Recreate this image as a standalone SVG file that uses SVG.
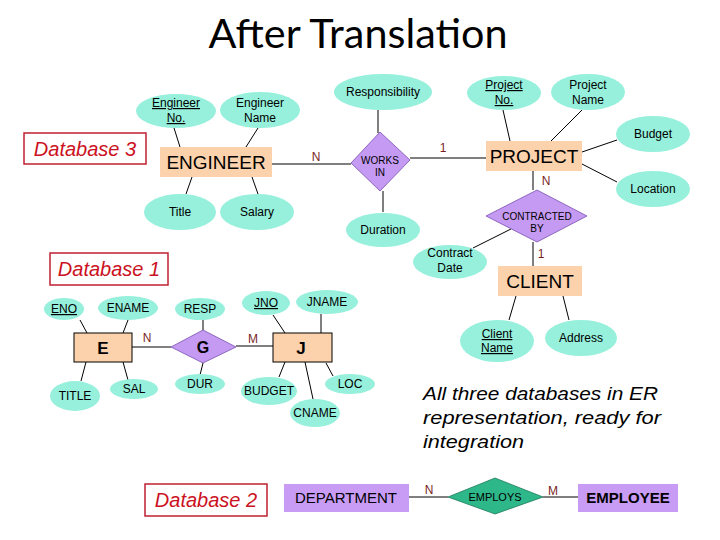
<svg xmlns="http://www.w3.org/2000/svg" width="720" height="540" viewBox="0 0 720 540">
<style>
text{font-family:"Liberation Sans",Arial,sans-serif;fill:#000}
.att{fill:#96F0DC}
.ent{fill:#FCD2AC}
.rel{fill:#C59AF2;stroke:#7a4fb0;stroke-width:0.8}
.at{font-size:12px;text-anchor:middle}
.big{font-size:19px;text-anchor:middle}
.card{font-size:12px;fill:#7a1f1f;text-anchor:middle}
.db{fill:#fff;stroke:#c02030;stroke-width:1.5}
.dbt{font-size:20px;font-style:italic;fill:#cc1122;text-anchor:middle}
.ln{stroke:#000;stroke-width:1;fill:none}
.u{text-decoration:underline}
</style>
<rect width="720" height="540" fill="#fff"/>
<text x="358" y="48" font-size="40" text-anchor="middle" textLength="299" lengthAdjust="spacingAndGlyphs" style="font-family:Lato,'Liberation Sans',sans-serif">After Translation</text>

<g id="connectors">
<line class="ln" x1="174" y1="128" x2="180" y2="147" stroke-width="2.5"/>
<line class="ln" x1="258" y1="128" x2="246" y2="147"/>
<line class="ln" x1="192" y1="177" x2="186" y2="194"/>
<line class="ln" x1="252" y1="177" x2="258" y2="194"/>
<line class="ln" x1="272" y1="164" x2="351" y2="164"/>
<line class="ln" x1="378" y1="110" x2="378" y2="133"/>
<line class="ln" x1="383" y1="191" x2="383" y2="212"/>
<line class="ln" x1="410" y1="158" x2="486" y2="158"/>
<line class="ln" x1="503" y1="110" x2="510" y2="141"/>
<line class="ln" x1="582" y1="110" x2="551" y2="141"/>
<line class="ln" x1="617" y1="140" x2="582" y2="152"/>
<line class="ln" x1="617" y1="182" x2="582" y2="164"/>
<line class="ln" x1="533" y1="171" x2="533" y2="190"/>
<line class="ln" x1="533" y1="242" x2="533" y2="266"/>
<line class="ln" x1="511" y1="229" x2="473" y2="248"/>
<line class="ln" x1="516" y1="296" x2="509" y2="320"/>
<line class="ln" x1="563" y1="296" x2="569" y2="320"/>
<line class="ln" x1="80" y1="320" x2="87" y2="333"/>
<line class="ln" x1="128" y1="320" x2="123" y2="333"/>
<line class="ln" x1="86" y1="362" x2="81" y2="381"/>
<line class="ln" x1="123" y1="362" x2="128" y2="380"/>
<line class="ln" x1="132" y1="347" x2="171" y2="347"/>
<line class="ln" x1="203" y1="318" x2="203" y2="330"/>
<line class="ln" x1="203" y1="363" x2="200" y2="375"/>
<line class="ln" x1="236" y1="346" x2="273" y2="346"/>
<line class="ln" x1="273" y1="315" x2="285" y2="333"/>
<line class="ln" x1="321" y1="314" x2="321" y2="333"/>
<line class="ln" x1="285" y1="362" x2="279" y2="377"/>
<line class="ln" x1="305" y1="362" x2="313" y2="399"/>
<line class="ln" x1="326" y1="363" x2="333" y2="376"/>
<line class="ln" x1="409" y1="497" x2="448" y2="497" stroke-width="3"/>
<line class="ln" x1="543" y1="497" x2="578" y2="497" stroke-width="3"/>
<text class="card" x="316" y="161">N</text>
<text class="card" x="443" y="152">1</text>
<text class="card" x="546" y="185">N</text>
<text class="card" x="541" y="258">1</text>
<text class="card" x="147" y="342">N</text>
<text class="card" x="253" y="343">M</text>
<text class="card" x="429" y="494">N</text>
<text class="card" x="553" y="495">M</text>
</g>

<g id="db3"><rect class="db" x="24" y="133" width="122" height="31"/><text class="dbt" x="85" y="156">Database 3</text></g>
<g id="db1"><rect class="db" x="50" y="253" width="118" height="32"/><text class="dbt" x="109" y="276">Database 1</text></g>
<g id="db2"><rect class="db" x="145" y="484" width="122" height="32"/><text class="dbt" x="206" y="507">Database 2</text></g>

<g id="engineer-no"><ellipse class="att" cx="176" cy="111" rx="40" ry="17"/><text class="at u" x="176" y="107">Engineer</text><text class="at u" x="176" y="122">No.</text></g>
<g id="engineer-name"><ellipse class="att" cx="260" cy="110" rx="40" ry="18"/><text class="at" x="260" y="107">Engineer</text><text class="at" x="260" y="122">Name</text></g>
<g id="engineer"><rect class="ent" x="160" y="147" width="112" height="30"/><text class="big" x="216" y="169">ENGINEER</text></g>
<g id="title"><ellipse class="att" cx="180" cy="212" rx="36" ry="18"/><text class="at" x="180" y="216">Title</text></g>
<g id="salary"><ellipse class="att" cx="257" cy="212" rx="37" ry="18"/><text class="at" x="257" y="216">Salary</text></g>
<g id="responsibility"><ellipse class="att" cx="383" cy="92" rx="49" ry="18"/><text class="at" x="383" y="96">Responsibility</text></g>
<g id="works-in"><polygon class="rel" points="380,132 410,160 380,191 351,163"/><text x="380" y="164" font-size="10" text-anchor="middle">WORKS</text><text x="380" y="176" font-size="10" text-anchor="middle">IN</text></g>
<g id="duration"><ellipse class="att" cx="383" cy="230" rx="37" ry="17"/><text class="at" x="383" y="234">Duration</text></g>
<g id="project-no"><ellipse class="att" cx="504" cy="93" rx="37" ry="17"/><text class="at u" x="504" y="89">Project</text><text class="at u" x="504" y="104">No.</text></g>
<g id="project-name"><ellipse class="att" cx="588" cy="92" rx="37" ry="18"/><text class="at" x="588" y="89">Project</text><text class="at" x="588" y="104">Name</text></g>
<g id="budget"><ellipse class="att" cx="653" cy="134" rx="37" ry="18"/><text class="at" x="653" y="138">Budget</text></g>
<g id="location"><ellipse class="att" cx="653" cy="189" rx="37" ry="18"/><text class="at" x="653" y="193">Location</text></g>
<g id="project"><rect class="ent" x="486" y="141" width="96" height="30"/><text class="big" x="534" y="163">PROJECT</text></g>
<g id="contracted-by"><polygon class="rel" points="537,190 587,216 537,242 486,216"/><text x="537" y="220" font-size="10" text-anchor="middle">CONTRACTED</text><text x="537" y="232" font-size="10" text-anchor="middle">BY</text></g>
<g id="contract-date"><ellipse class="att" cx="450" cy="262" rx="37" ry="17"/><text class="at" x="450" y="257">Contract</text><text class="at" x="450" y="272">Date</text></g>
<g id="client"><rect class="ent" x="498" y="266" width="84" height="30"/><text class="big" x="540" y="288">CLIENT</text></g>
<g id="client-name"><ellipse class="att" cx="497" cy="341" rx="37" ry="21"/><text class="at u" x="497" y="338">Client</text><text class="at u" x="497" y="352">Name</text></g>
<g id="address"><ellipse class="att" cx="581" cy="338" rx="36" ry="18"/><text class="at" x="581" y="342">Address</text></g>

<g id="eno"><ellipse class="att" cx="64" cy="309" rx="20" ry="11"/><text class="at u" x="64" y="313">ENO</text></g>
<g id="ename"><ellipse class="att" cx="128" cy="308" rx="30" ry="12"/><text class="at" x="128" y="312">ENAME</text></g>
<g id="e"><rect class="ent" x="74" y="333" width="58" height="29" stroke="#000" stroke-width="1"/><text x="103" y="354" font-size="17" font-weight="bold" text-anchor="middle">E</text></g>
<g id="title2"><ellipse class="att" cx="75" cy="396" rx="25" ry="15"/><text class="at" x="75" y="400">TITLE</text></g>
<g id="sal"><ellipse class="att" cx="134" cy="389" rx="24" ry="10"/><text class="at" x="134" y="393">SAL</text></g>
<g id="resp"><ellipse class="att" cx="200" cy="309" rx="25" ry="11"/><text class="at" x="200" y="313">RESP</text></g>
<g id="g"><polygon class="rel" points="203,330 236,347 203,363 171,347"/><text x="203" y="353" font-size="16" font-weight="bold" text-anchor="middle">G</text></g>
<g id="dur"><ellipse class="att" cx="200" cy="384" rx="25" ry="10"/><text class="at" x="200" y="388">DUR</text></g>
<g id="jno"><ellipse class="att" cx="266" cy="303" rx="24" ry="12"/><text class="at u" x="266" y="307">JNO</text></g>
<g id="jname"><ellipse class="att" cx="327" cy="302" rx="31" ry="12"/><text class="at" x="327" y="306">JNAME</text></g>
<g id="j"><rect class="ent" x="273" y="333" width="59" height="29" stroke="#000" stroke-width="1"/><text x="301" y="354" font-size="17" font-weight="bold" text-anchor="middle">J</text></g>
<g id="budget2"><ellipse class="att" cx="269" cy="391" rx="28" ry="14"/><text class="at" x="269" y="395">BUDGET</text></g>
<g id="cname"><ellipse class="att" cx="315" cy="413" rx="25" ry="14"/><text class="at" x="315" y="417">CNAME</text></g>
<g id="loc"><ellipse class="att" cx="350" cy="384" rx="25" ry="10"/><text class="at" x="350" y="388">LOC</text></g>

<g id="department"><rect x="284" y="484" width="125" height="28" fill="#C89CF5"/><text x="346" y="503" font-size="15" text-anchor="middle">DEPARTMENT</text></g>
<g id="employs"><polygon points="495,478 543,497 495,514 448,497" fill="#2EB88A" stroke="#1d7a5a" stroke-width="0.8"/><text x="495" y="501" font-size="11" text-anchor="middle" fill="#0d3d2d">EMPLOYS</text></g>
<g id="employee"><rect x="578" y="484" width="100" height="28" fill="#C89CF5"/><text x="628" y="503" font-size="15" font-weight="bold" text-anchor="middle">EMPLOYEE</text></g>

<g id="note" font-size="19" font-style="italic">
<text x="423" y="400" textLength="235" lengthAdjust="spacingAndGlyphs">All three databases in ER</text>
<text x="423" y="424" textLength="238" lengthAdjust="spacingAndGlyphs">representation, ready for</text>
<text x="423" y="448" textLength="101" lengthAdjust="spacingAndGlyphs">integration</text>
</g>
</svg>
